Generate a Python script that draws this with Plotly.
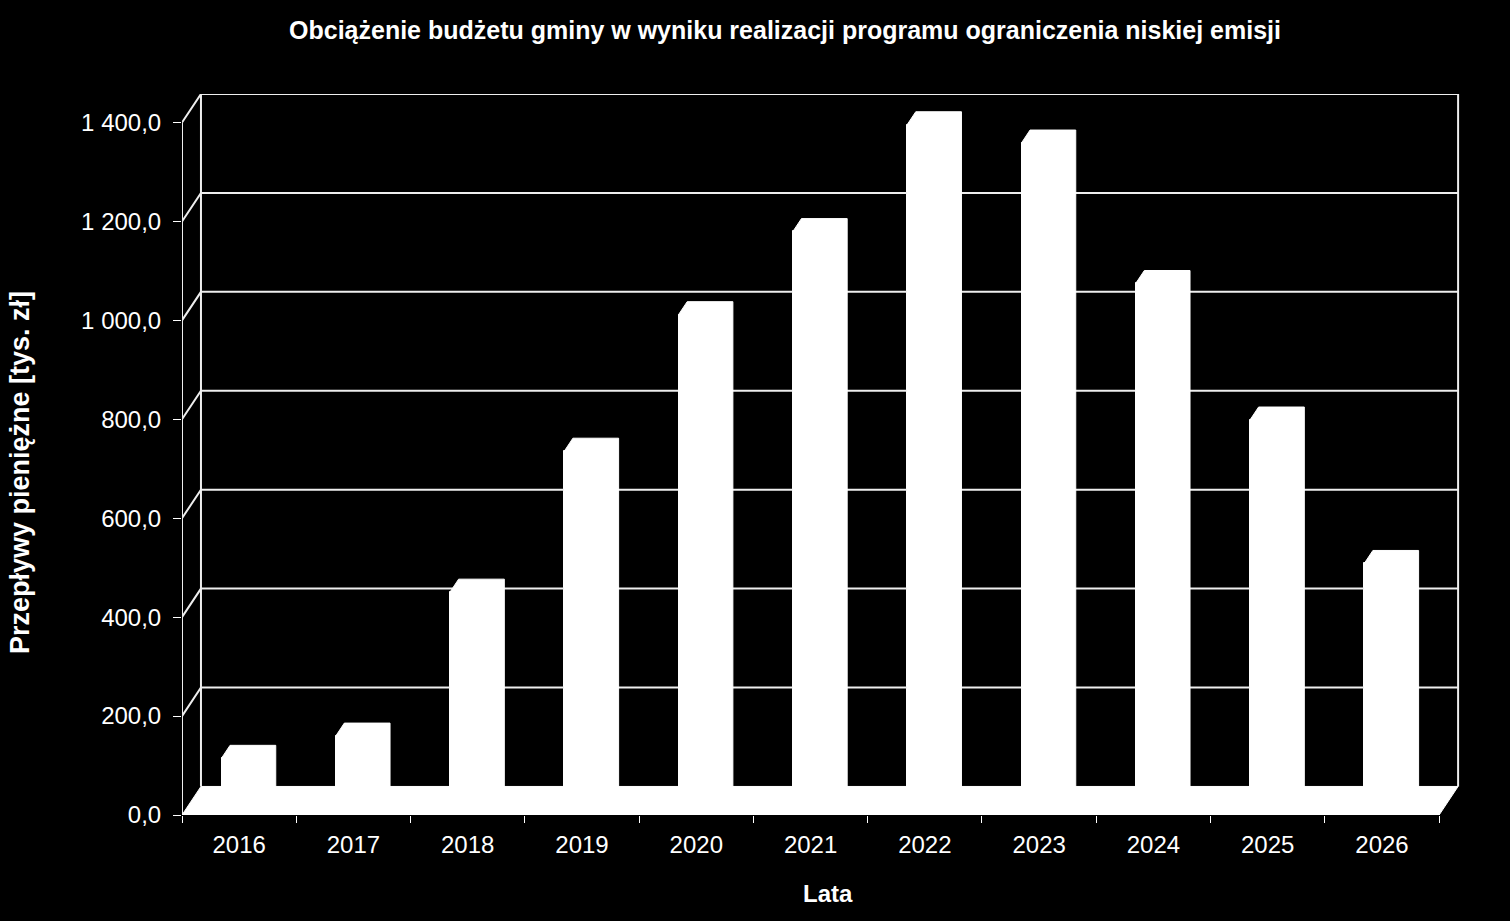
import plotly.graph_objects as go

# ---- data ----
years = ["2016", "2017", "2018", "2019", "2020", "2021", "2022", "2023", "2024", "2025", "2026"]
values = [99, 144, 435, 720, 996, 1164, 1380, 1343, 1059, 783, 493]
y_ticks = [0, 200, 400, 600, 800, 1000, 1200, 1400]
y_tick_labels = ["0,0", "200,0", "400,0", "600,0", "800,0", "1 000,0", "1 200,0", "1 400,0"]

title = "Obciążenie budżetu gminy w wyniku realizacji programu ograniczenia niskiej emisji"
y_title = "Przepływy pieniężne [tys. zł]"
x_title = "Lata"

# ---- 3D look parameters (data units) ----
DX = 0.166      # depth shift along x (categories)
DY = 57.7       # depth shift along y (value units)
DF, DB = 0.275, 0.725   # bar front/back depth fractions
W = 0.40        # bar width
YMAX = 1400

n = len(years)
xs = list(range(n))
FONT = "Liberation Sans, Arial, sans-serif"

fig = go.Figure()

# back wall + side wall gridlines
gx, gy = [], []
for v in y_ticks[1:]:
    gx += [-0.5, -0.5 + DX, n - 0.5 + DX, None]
    gy += [v, v + DY, v + DY, None]
# back wall vertical edges
for xe in (-0.5 + DX, n - 0.5 + DX):
    gx += [xe, xe, None]
    gy += [DY, YMAX + DY, None]
fig.add_trace(go.Scatter(x=gx, y=gy, mode="lines", line=dict(color="#eeeeee", width=2),
                         hoverinfo="skip", showlegend=False))
# front left axis line
fig.add_trace(go.Scatter(x=[-0.5, -0.5], y=[0, YMAX], mode="lines",
                         line=dict(color="#eeeeee", width=2), hoverinfo="skip", showlegend=False))

# floor
fig.add_trace(go.Scatter(x=[-0.5, n - 0.5, n - 0.5 + DX, -0.5 + DX, -0.5],
                         y=[0, 0, DY, DY, 0], mode="lines", fill="toself",
                         fillcolor="white", line=dict(color="white", width=1),
                         hoverinfo="skip", showlegend=False))

# bar front faces
fig.add_trace(go.Bar(x=[x + DF * DX for x in xs], y=values, base=DF * DY, width=W,
                     marker=dict(color="white", line=dict(color="white", width=1)),
                     hovertext=years, showlegend=False))

# bar tops and right sides (full silhouette so no seams)
cx, cy = [], []
for x, v in zip(xs, values):
    xlf = x - W / 2 + DF * DX
    xrf = x + W / 2 + DF * DX
    xlb = x - W / 2 + DB * DX
    xrb = x + W / 2 + DB * DX
    tf = v + DF * DY
    tb = v + DB * DY
    cx += [xlf, xlb, xrb, xrb, xrf, xlf, xlf, None]
    cy += [tf, tb, tb, DB * DY, DF * DY, DF * DY, tf, None]
fig.add_trace(go.Scatter(x=cx, y=cy, mode="lines", fill="toself", fillcolor="white",
                         line=dict(color="white", width=1), hoverinfo="skip", showlegend=False))

fig.update_layout(
    width=1510, height=921,
    paper_bgcolor="black", plot_bgcolor="black",
    margin=dict(l=182, r=50, t=94, b=106),
    font=dict(family=FONT, color="white", size=24),
    bargap=0,
    title=dict(text=title, x=785 / 1510, y=1 - 30 / 921, xref="container", yref="container",
               xanchor="center", yanchor="middle",
               font=dict(family=FONT, size=25, color="white", weight="bold")),
    xaxis=dict(range=[-0.5, n - 0.5 + DX * 1.1], showgrid=False, zeroline=False, showline=False,
               tickmode="array", tickvals=xs, ticktext=years, ticks="",
               tickfont=dict(size=24, color="white"), ticklabelstandoff=13,
               minor=dict(tickmode="array", tickvals=[i - 0.5 for i in range(n + 1)],
                          ticks="outside", ticklen=7, tickcolor="white", tickwidth=1,
                          showgrid=False),
               fixedrange=True),
    yaxis=dict(range=[0, YMAX + DY], showgrid=False, zeroline=False, showline=False,
               tickmode="array", tickvals=y_ticks, ticktext=y_tick_labels,
               ticks="outside", ticklen=8, tickcolor="white", tickwidth=1,
               tickfont=dict(size=24, color="white"), ticklabelstandoff=7,
               fixedrange=True),
    annotations=[
        dict(text=x_title, xref="paper", yref="paper", x=(828 - 182) / 1278, y=(815 - 893) / 721,
             xanchor="center", yanchor="middle", showarrow=False,
             font=dict(family=FONT, size=24, color="white", weight="bold")),
        dict(text=y_title, xref="paper", yref="paper", x=(20 - 182) / 1278, y=(815 - 473) / 721,
             xanchor="center", yanchor="middle", showarrow=False, textangle=-90,
             font=dict(family=FONT, size=27, color="white", weight="bold")),
    ],
)

fig.write_html("out.html")
